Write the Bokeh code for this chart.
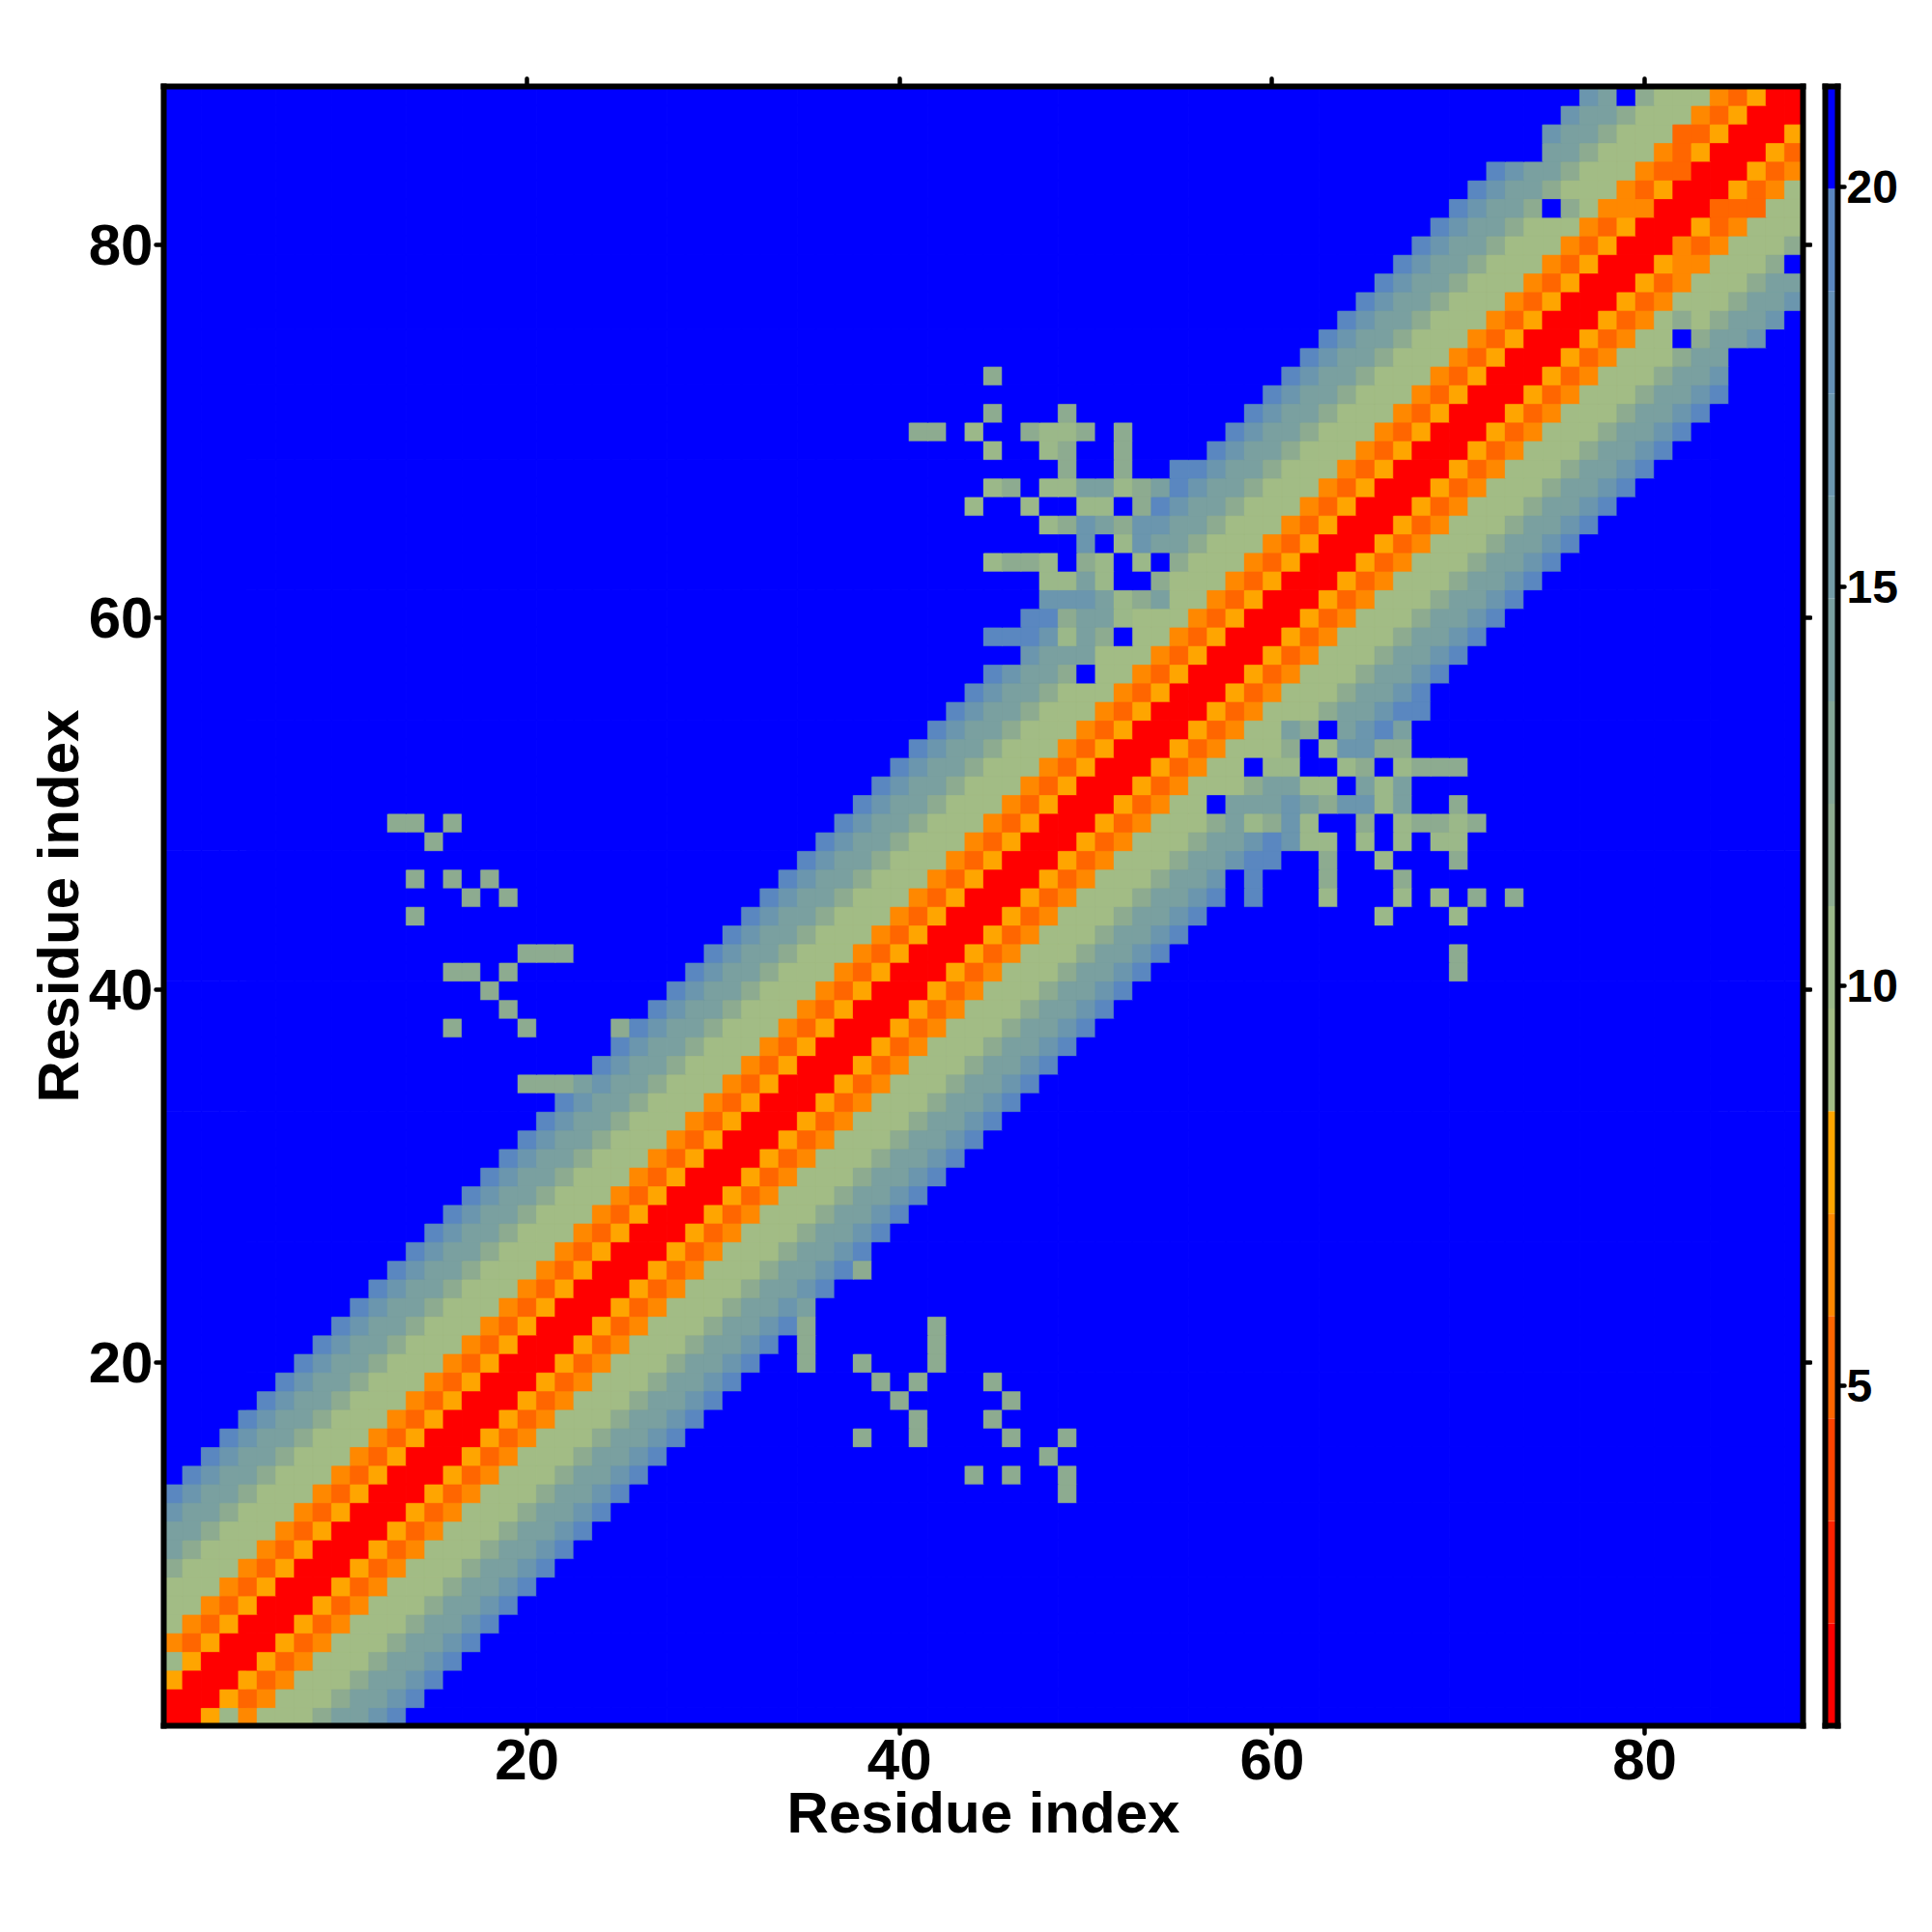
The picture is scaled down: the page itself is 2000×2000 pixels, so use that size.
from bokeh.embed import file_html
from bokeh.resources import INLINE
from bokeh.layouts import row
from bokeh.models import ColumnDataSource, LinearColorMapper, LinearAxis, FixedTicker, Range1d
from bokeh.plotting import figure
from bokeh.transform import transform

N_RES = 88
TICKS = [20, 40, 60, 80]
CB_TICKS = [5, 10, 15, 20]
CB_LOW, CB_HIGH = 0.74, 21.26
PALETTE = ["#ff0000", "#ff2200", "#ff4400", "#ff6600", "#ff8800", "#ffa500",
           "#a2bc85", "#9bb889", "#8dab90", "#84a696", "#7aa0a0", "#739ca6",
           "#6b96ae", "#6490b6", "#5a87c0", "#0000ff"]

# distance read for each colour class
R, DK, OR, AM, GN, GL, G2, G3, G3D, G4, BL = 1.4, 5.2, 6.5, 7.8, 9.0, 10.3, 11.6, 14.2, 16.7, 19.3, 20.6

# reading across the diagonal, offset |i-j| = 0..12
BAND = [R, R, AM, DK, OR, GN, GN, GN, G2, G3, G3, G3D, G4]

# cells (row, col) with row > col that differ from the band; the map is symmetric
G2_CELLS = [(73, 45), (71, 45), (71, 49), (70, 41), (70, 42), (70, 47), (70, 50), (70, 52),
            (69, 49), (69, 52), (68, 49), (68, 52), (67, 46), (67, 53), (66, 53), (65, 49),
            (65, 52), (63, 46), (63, 47), (63, 50), (60, 49),
            (49, 13), (49, 14), (49, 16), (48, 15), (46, 14), (46, 16), (46, 18), (45, 17),
            (45, 19), (44, 14), (42, 20), (42, 21), (42, 22), (41, 16), (41, 17), (41, 19),
            (40, 18), (39, 19), (38, 16), (38, 20), (38, 25), (35, 20), (35, 21), (35, 22),
            (82, 76)]
GL_CELLS = [(70, 44), (70, 48), (70, 49), (69, 45), (69, 48), (67, 45), (67, 48), (67, 49),
            (67, 52), (66, 44), (66, 47), (66, 50), (66, 51), (65, 48), (64, 52), (63, 45),
            (63, 48), (63, 51), (63, 53), (62, 48), (62, 49), (62, 51), (61, 52), (60, 52),
            (59, 49), (4, 1)]
G3_CELLS = [(67, 50), (67, 51), (67, 54), (65, 51), (62, 50), (61, 51), (61, 54), (59, 50),
            (58, 50), (35, 23)]
G3D_CELLS = [(65, 50), (65, 53), (64, 50), (61, 48), (61, 49), (61, 50)]
G4_CELLS = [(68, 55), (60, 47), (59, 45), (59, 46)]
BLUE_CELLS = [(88, 79), (88, 76), (87, 75), (86, 74), (85, 73), (85, 74), (82, 75),
              (63, 52), (63, 54), (62, 52), (62, 53), (59, 52), (58, 46), (57, 50)]
OR_CELLS = [(82, 80), (82, 79)]
DK_CELLS = [(86, 82), (84, 82)]


def build():
    vals = {}
    for a in range(1, N_RES + 1):
        for b in range(1, N_RES + 1):
            off = abs(a - b)
            vals[(a, b)] = BAND[off] if off < len(BAND) else BL
    groups = [(G2_CELLS, G2), (GL_CELLS, GL), (G3_CELLS, G3), (G3D_CELLS, G3D),
              (G4_CELLS, G4), (BLUE_CELLS, BL), (OR_CELLS, OR), (DK_CELLS, DK)]
    for cells, v in groups:
        for a, b in cells:
            vals[(a, b)] = v
            vals[(b, a)] = v
    return vals


vals = build()
src = ColumnDataSource(dict(
    x=[k[1] for k in vals],
    y=[k[0] for k in vals],
    v=list(vals.values()),
))
mapper = LinearColorMapper(palette=PALETTE, low=CB_LOW, high=CB_HIGH)

FONT = "Liberation Sans"
FRAME_W = 6


def style_axis(ax, ticks, size, standoff, tick_out=8):
    ax.ticker = FixedTicker(ticks=ticks)
    ax.axis_line_color = "black"
    ax.axis_line_width = FRAME_W
    ax.axis_line_cap = "square"
    ax.major_tick_in = 0
    ax.major_tick_out = tick_out
    ax.major_tick_line_width = 4.5
    ax.major_tick_line_color = "black"
    ax.major_tick_line_cap = "round"
    ax.minor_tick_line_color = None
    ax.major_label_text_font = FONT
    ax.major_label_text_font_style = "bold"
    ax.major_label_text_font_size = size
    ax.major_label_text_color = "black"
    ax.major_label_standoff = standoff


p = figure(width=1876, height=1968, x_range=Range1d(0.5, 88.5), y_range=Range1d(0.5, 88.5),
           output_backend="svg", toolbar_location=None, tools="",
           min_border_left=169, min_border_right=10, min_border_top=89, min_border_bottom=182,
           x_axis_location="below", y_axis_location="left")
p.grid.visible = False
p.outline_line_color = None
p.rect("x", "y", 1, 1, source=src, fill_color=transform("v", mapper),
       line_color=transform("v", mapper), line_width=0.3, dilate=True)

style_axis(p.xaxis[0], TICKS, "60px", 6)
style_axis(p.yaxis[0], TICKS, "60px", 3)
p.yaxis[0].major_label_orientation = "horizontal"
for ax, off in ((p.xaxis[0], -2), (p.yaxis[0], -5)):
    ax.axis_label = "Residue index"
    ax.axis_label_text_font = FONT
    ax.axis_label_text_font_style = "bold"
    ax.axis_label_text_font_size = "60px"
    ax.axis_label_text_color = "black"
    ax.axis_label_standoff = off
for side in ("above", "right"):
    ax = LinearAxis()
    style_axis(ax, TICKS, "0px", 0)
    ax.major_label_text_color = None
    p.add_layout(ax, side)

# colour bar: one strip per palette entry
edges = [CB_LOW + (CB_HIGH - CB_LOW) * k / len(PALETTE) for k in range(len(PALETTE) + 1)]
cb_src = ColumnDataSource(dict(bottom=edges[:-1], top=edges[1:], color=PALETTE))
cb = figure(width=116, height=1968, x_range=Range1d(0, 1), y_range=Range1d(CB_LOW, CB_HIGH),
            output_backend="svg", toolbar_location=None, tools="",
            min_border_left=13, min_border_right=90, min_border_top=89, min_border_bottom=182,
            x_axis_location=None, y_axis_location="right")
cb.grid.visible = False
cb.outline_line_color = None
cb.quad(left=0, right=1, bottom="bottom", top="top", fill_color="color", line_color=None, source=cb_src)
style_axis(cb.yaxis[0], CB_TICKS, "48px", 2, tick_out=7)
cb.yaxis[0].major_label_orientation = "horizontal"
for side in ("left", "above", "below"):
    ax = LinearAxis()
    style_axis(ax, [], "0px", 0, tick_out=0)
    ax.major_label_text_color = None
    cb.add_layout(ax, side)

open("out.html", "w").write(file_html(row(p, cb), INLINE))
